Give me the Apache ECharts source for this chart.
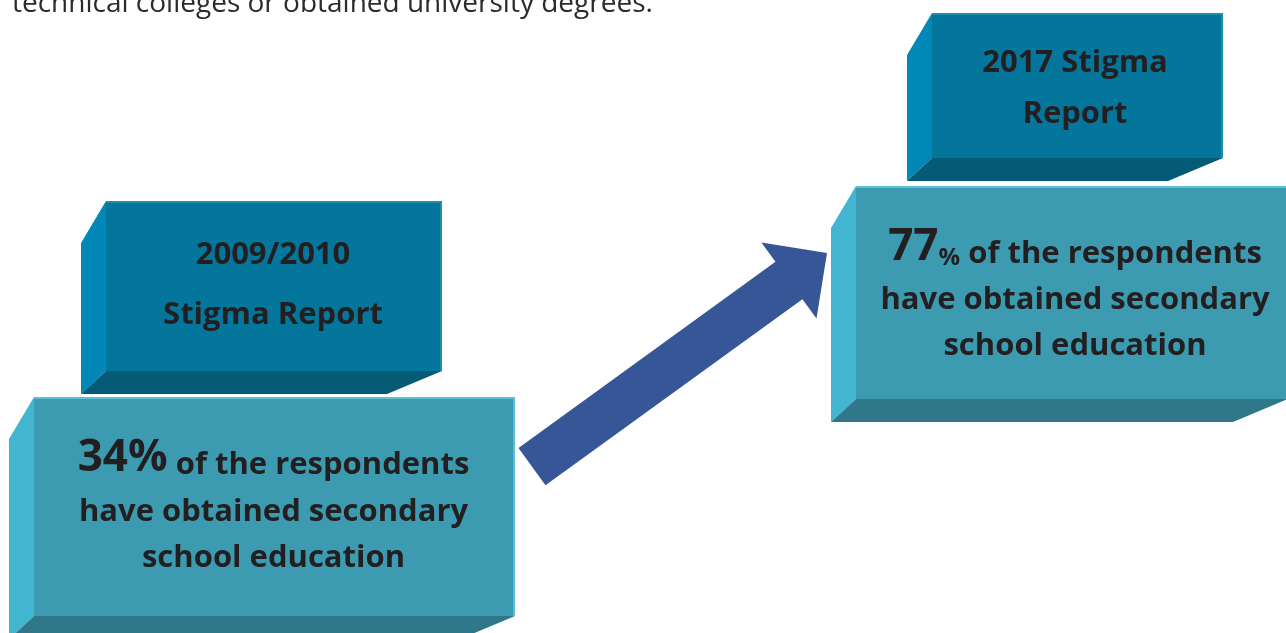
<!DOCTYPE html>
<html>
<head>
<meta charset="utf-8">
<script src="https://cdn.jsdelivr.net/npm/echarts@6/dist/echarts.min.js"></script>
<style>
  html, body { margin: 0; padding: 0; background: #fff; }
  #main { width: 1286px; height: 633px; }
</style>
</head>
<body>
<div id="main"></div>
<script>
// data
const introText = 'technical colleges or obtained university degrees.';
const reports = ['2009/2010 Stigma Report', '2017 Stigma Report'];
const titleLines = [['2009/2010', 'Stigma Report'], ['2017 Stigma', 'Report']];
const shares = [34, 77];
const captionLines = ['of the respondents', 'have obtained secondary', 'school education'];

// look of each report block (sizes / offsets from the anchor point)
const layout = [
  { lowW: 481, lowH: 219, upDx: -0.5, upW: 336, upTop: -196, upBot: -26, titleBase: [63, 123], titleDx: -1, textDx: -1, bigPct: true },
  { lowW: 432, lowH: 213, upDx: 5.5, upW: 291, upTop: -173, upBot: -28, titleBase: [60, 111], titleDx: -2.5, textDx: 3, bigPct: false }
];
const captionBase = [75, 124, 170];

const FONT = '"Open Sans", Lato, sans-serif';
const INK = '#231f20';
const BIG = 44, MID = 31, SMALL = 24;
const lowColors = { front: '#3c9bb1', side: '#42b5d0', bottom: '#2e7889', edge: '#5cbfd3' };
const upColors = { front: '#05769b', side: '#0288b6', bottom: '#055a76', edge: '#1b8db0' };

function box(x0, y0, x1, y1, c) {
  const d = 25, slant = 42, depth = 23, rslant = 55;
  return [
    { type: 'polygon', shape: { points: [[x0, y0], [x0 - d, y0 + slant], [x0 - d, y1 + depth], [x0, y1]] }, style: { fill: c.side } },
    { type: 'polygon', shape: { points: [[x0, y1], [x1, y1], [x1 - rslant, y1 + depth], [x0 - d, y1 + depth]] }, style: { fill: c.bottom } },
    { type: 'rect', shape: { x: x0, y: y0, width: x1 - x0, height: y1 - y0 }, style: { fill: c.front } },
    { type: 'polyline', shape: { points: [[x0, y0 + 1], [x1 - 1, y0 + 1], [x1 - 1, y1]] }, style: { stroke: c.edge, lineWidth: 2, fill: null } }
  ];
}

function line(x, base, text, rich, ref) {
  return {
    type: 'text', x: x, y: base + 0.2 * ref,
    style: { text: text, rich: rich, align: 'center', verticalAlign: 'bottom', fill: INK, font: 'bold ' + ref + 'px ' + FONT }
  };
}

function tokenH(s) { return 0.4 * BIG + 0.6 * s; }
const rich = {
  big: { fontSize: BIG, fontWeight: 'bold', fontFamily: FONT, fill: INK, lineHeight: BIG, verticalAlign: 'bottom' },
  mid: { fontSize: MID, fontWeight: 'bold', fontFamily: FONT, fill: INK, lineHeight: tokenH(MID), verticalAlign: 'bottom' },
  small: { fontSize: SMALL, fontWeight: 'bold', fontFamily: FONT, fill: INK, lineHeight: tokenH(SMALL), verticalAlign: 'bottom' },
  plain: { fontSize: MID, fontWeight: 'bold', fontFamily: FONT, fill: INK, lineHeight: MID, verticalAlign: 'bottom' }
};

function arrow(tail, tip) {
  const dx = tip[0] - tail[0], dy = tip[1] - tail[1];
  const len = Math.sqrt(dx * dx + dy * dy);
  const ux = dx / len, uy = dy / len, nx = -uy, ny = ux;
  const shaft = 23, head = 47, headLen = 47;
  const nk = [tip[0] - ux * headLen, tip[1] - uy * headLen];
  const pt = (p, k) => [p[0] + nx * k, p[1] + ny * k];
  return {
    type: 'polygon',
    shape: { points: [pt(tail, shaft), pt(nk, shaft), pt(nk, head), tip, pt(nk, -head), pt(nk, -shaft), pt(tail, -shaft)] },
    style: { fill: '#365698' }
  };
}

function renderItem(params, api) {
  const i = params.dataIndex;
  const L = layout[i];
  const p = api.coord([api.value(0), api.value(1)]);
  const cx = p[0], ty = p[1];
  const kids = [];

  // top block: report name
  const ux0 = cx + L.upDx - L.upW / 2, ux1 = cx + L.upDx + L.upW / 2;
  kids.push(...box(ux0, ty + L.upTop, ux1, ty + L.upBot, upColors));
  titleLines[i].forEach((t, k) => {
    kids.push(line((ux0 + ux1) / 2 + L.titleDx, ty + L.upTop + L.titleBase[k], '{plain|' + t + '}', rich, MID));
  });

  // bottom block: share
  const lx0 = cx - L.lowW / 2, lx1 = cx + L.lowW / 2;
  kids.push(...box(lx0, ty, lx1, ty + L.lowH, lowColors));
  const v = api.value(1);
  const first = L.bigPct
    ? '{big|' + v + '%}{mid| ' + captionLines[0] + '}'
    : '{big|' + v + '}{small|%}{mid| ' + captionLines[0] + '}';
  const tx = cx + L.textDx;
  kids.push(line(tx, ty + captionBase[0], first, rich, BIG));
  kids.push(line(tx, ty + captionBase[1], '{plain|' + captionLines[1] + '}', rich, MID));
  kids.push(line(tx, ty + captionBase[2], '{plain|' + captionLines[2] + '}', rich, MID));

  // arrow from this block to the next one
  if (i < shares.length - 1) {
    const q = api.coord([i + 1, shares[i + 1]]);
    kids.push(arrow([cx + 257.5, ty + 69.5], [q[0] - 245, q[1] + 67]));
  }
  return { type: 'group', children: kids };
}

const chart = echarts.init(document.getElementById('main'), null, { renderer: 'canvas' });
chart.setOption({
  animation: false,
  backgroundColor: '#fff',
  grid: { left: 274.5, right: 214, top: 73, bottom: 69 },
  xAxis: { type: 'value', min: 0, max: 1, show: false },
  yAxis: { type: 'value', min: 0, max: 100, show: false },
  graphic: [{
    type: 'text', left: 12, top: -10,
    style: { text: introText, fill: '#2b2b2b', font: '28px ' + FONT }
  }],
  series: [{
    type: 'custom',
    name: 'Stigma Reports',
    clip: false,
    renderItem: renderItem,
    data: shares.map((v, i) => ({ name: reports[i], value: [i, v] }))
  }]
});
window.onresize = function () { chart.resize(); };
</script>
</body>
</html>
